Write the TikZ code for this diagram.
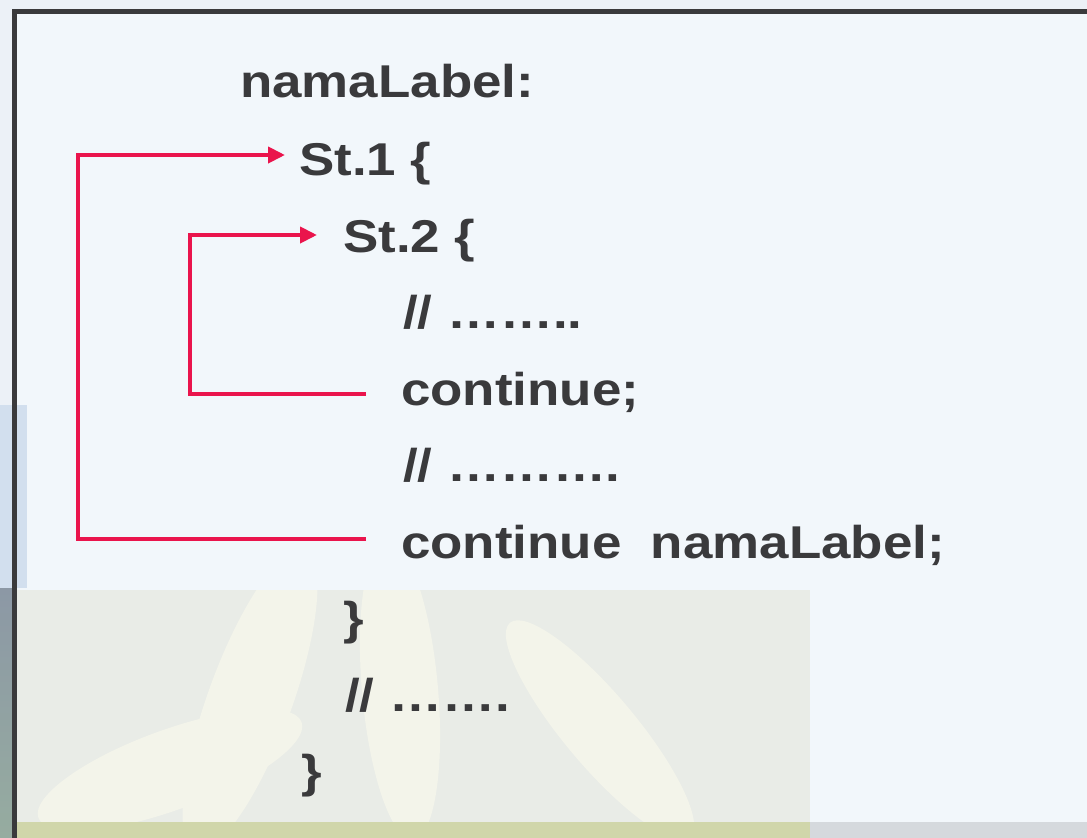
\documentclass[tikz,border=0pt]{standalone}
\usepackage{fontspec}
\setmainfont{Liberation Sans}
\usetikzlibrary{arrows.meta}
\definecolor{codegray}{RGB}{58,58,60}
\definecolor{jumpred}{RGB}{234,20,76}
\definecolor{paneblue}{RGB}{242,247,251}
\definecolor{photoblue}{RGB}{236,241,247}
\definecolor{skyblue}{RGB}{210,223,238}
\definecolor{stemgray}{RGB}{140,152,165}
\definecolor{leafgreen}{RGB}{150,172,160}
\definecolor{petalback}{RGB}{233,236,231}
\definecolor{petal}{RGB}{243,244,234}
\definecolor{grass}{RGB}{208,214,170}
\newcommand{\codetext}[1]{\scalebox{1.15}[1]{#1}}
\begin{document}
\begin{tikzpicture}[
        x=1pt, y=-1pt,
        codeline/.style={anchor=base west, inner sep=0pt, text=codegray,
            font=\fontsize{46}{46}\selectfont\bfseries},
        jump/.style={draw=jumpred, line width=4pt, -{Triangle[length=17pt,width=16pt]}},
    ]
    \useasboundingbox (0,0) rectangle (1087,838);
    % background
    \fill[photoblue] (0,0) rectangle (1087,838);
    \fill[paneblue] (14,11) rectangle (1087,822);
    \fill[skyblue] (0,405) rectangle (27,588);
    \shade[top color=stemgray, bottom color=leafgreen] (0,588) rectangle (12,838);
    \fill[petalback] (15,590) rectangle (810,822);
    \begin{scope}
        \clip (15,590) rectangle (810,838);
        \fill[petal] (250,700) ellipse [x radius=160, y radius=42, rotate=70];
        \fill[petal] (170,770) ellipse [x radius=140, y radius=40, rotate=20];
        \fill[petal] (400,690) ellipse [x radius=150, y radius=38, rotate=95];
        \fill[petal] (600,730) ellipse [x radius=140, y radius=36, rotate=130];
    \end{scope}
    \fill[grass] (15,822) rectangle (810,838);
    \fill[black!12!paneblue] (810,822) rectangle (1087,838);
    \draw[codegray, line width=5pt] (14,838) -- (14,11) -- (1087,11);
    % code
    \node[codeline] (lbl) at (240,97) {\codetext{namaLabel:}};
    \node[codeline] (st1) at (299,175) {\codetext{St.1 \{}};
    \node[codeline] (st2) at (343,252) {\codetext{St.2 \{}};
    \node[codeline] (cmt1) at (403,328) {\codetext{// ……..}};
    \node[codeline] (cont1) at (401,405) {\codetext{continue;}};
    \node[codeline] (cmt2) at (403,481) {\codetext{// ……….}};
    \node[codeline] (cont2) at (401,558) {\codetext{continue\ \ namaLabel;}};
    \node[codeline] (close2) at (343,634) {\codetext{\}}};
    \node[codeline] (cmt3) at (345,711) {\codetext{// …….}};
    \node[codeline] (close1) at (301,787) {\codetext{\}}};
    % jumps
    \draw[jump] ([shift={(-35,-11)}]cont1.base west) -- ++(-176,0)
        |- ([shift={(-26,-17)}]st2.base west);
    \draw[jump] ([shift={(-35,-19)}]cont2.base west) -- ++(-288,0)
        |- ([shift={(-14,-20)}]st1.base west);
\end{tikzpicture}
\end{document}
